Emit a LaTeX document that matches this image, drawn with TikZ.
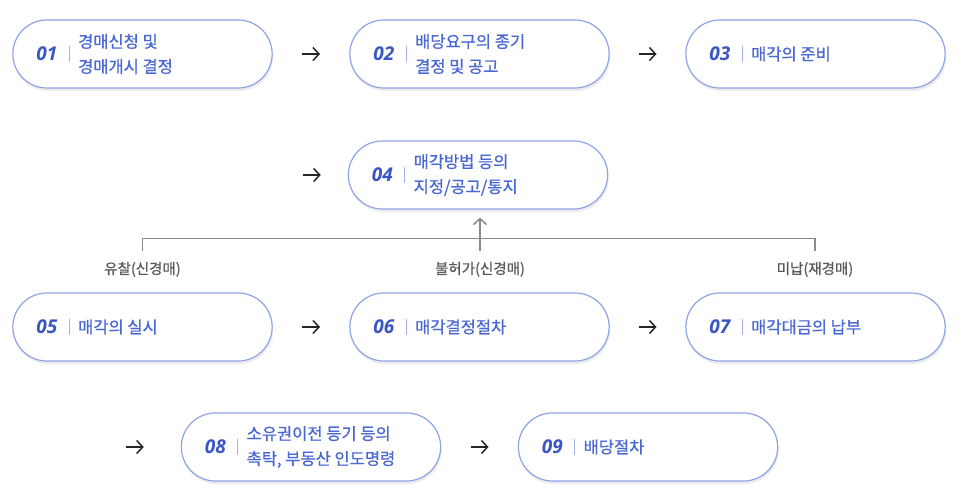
\documentclass[tikz,border=0pt]{standalone}
\usepackage{fontspec}
\setmainfont{Noto Sans CJK KR}[FakeBold=0.7]
\newfontfamily\numfont{Open Sans}
\usetikzlibrary{calc}
\usetikzlibrary{positioning}
\usetikzlibrary{shapes.misc}
\usetikzlibrary{shadows}
\usetikzlibrary{arrows.meta}
\definecolor{boxline}{HTML}{8FA3E8}
\definecolor{numblue}{HTML}{3A56C5}
\definecolor{txtblue}{HTML}{4A68D4}
\definecolor{barblue}{HTML}{A3B1DE}
\definecolor{linegray}{HTML}{8A8A8A}
\definecolor{labelgray}{HTML}{5A5A5A}
\tikzstyle{stagebox} = [draw=boxline, line width=1.2pt, fill=white, rounded rectangle, minimum width=266pt, minimum height=68pt, drop shadow={shadow xshift=1pt, shadow yshift=-3pt, opacity=0.15}]
\tikzstyle{stagenum} = [inner sep=0pt, text=numblue, font=\numfont\bfseries\itshape\fontsize{19}{19}\selectfont]
\tikzstyle{stagebar} = [inner sep=0pt, minimum width=1pt, minimum height=16pt, fill=barblue]
\tikzstyle{stagetxt} = [inner sep=0pt, align=left, text=txtblue, font=\fontsize{16.5}{25}\selectfont]
\tikzstyle{flowarrow} = [-{Straight Barb[length=6pt,width=13pt]}, line width=1.5pt, color=black!85]
\tikzstyle{branch} = [draw=linegray, line width=1.4pt]
\tikzstyle{branchlabel} = [inner sep=0pt, text=labelgray, font=\fontsize{14.5}{14.5}\selectfont]

\begin{document}
\begin{tikzpicture}[x=1pt,y=-1pt]
    \useasboundingbox (0,0) rectangle (966,502);

    % first row
    \node[stagebox] (b01) at (142.5,54) {};
    \node[stagenum, right=24pt of b01.west] (n01) {01};
    \node[stagebar, right=11pt of n01] (s01) {};
    \node[stagetxt, right=8pt of s01] (t01) {경매신청 및\\경매개시 결정};

    \node[stagebox] (b02) at ($(b01)+(337,0)$) {};
    \node[stagenum, right=24pt of b02.west] (n02) {02};
    \node[stagebar, right=11pt of n02] (s02) {};
    \node[stagetxt, right=8pt of s02] (t02) {배당요구의 종기\\결정 및 공고};

    \node[stagebox] (b03) at ($(b02)+(336,0)$) {};
    \node[stagenum, right=24pt of b03.west] (n03) {03};
    \node[stagebar, right=11pt of n03] (s03) {};
    \node[stagetxt, right=8pt of s03] (t03) {매각의 준비};

    % second row
    \node[stagebox] (b04) at ($(b02)+(-1.5,121)$) {};
    \node[stagenum, right=24pt of b04.west] (n04) {04};
    \node[stagebar, right=11pt of n04] (s04) {};
    \node[stagetxt, right=8pt of s04] (t04) {매각방법 등의\\지정/공고/통지};

    % third row
    \node[stagebox] (b05) at ($(b01)+(0,273)$) {};
    \node[stagenum, right=24pt of b05.west] (n05) {05};
    \node[stagebar, right=11pt of n05] (s05) {};
    \node[stagetxt, right=8pt of s05] (t05) {매각의 실시};

    \node[stagebox] (b06) at ($(b05)+(337,0)$) {};
    \node[stagenum, right=24pt of b06.west] (n06) {06};
    \node[stagebar, right=11pt of n06] (s06) {};
    \node[stagetxt, right=8pt of s06] (t06) {매각결정절차};

    \node[stagebox] (b07) at ($(b06)+(336,0)$) {};
    \node[stagenum, right=24pt of b07.west] (n07) {07};
    \node[stagebar, right=11pt of n07] (s07) {};
    \node[stagetxt, right=8pt of s07] (t07) {매각대금의 납부};

    % fourth row
    \node[stagebox] (b08) at (311,447) {};
    \node[stagenum, right=24pt of b08.west] (n08) {08};
    \node[stagebar, right=11pt of n08] (s08) {};
    \node[stagetxt, right=8pt of s08] (t08) {소유권이전 등기 등의\\촉탁, 부동산 인도명령};

    \node[stagebox] (b09) at ($(b08)+(337,0)$) {};
    \node[stagenum, right=24pt of b09.west] (n09) {09};
    \node[stagebar, right=11pt of n09] (s09) {};
    \node[stagetxt, right=8pt of s09] (t09) {배당절차};

    % arrows between the stages
    \coordinate (ar_12) at ($(b01.east)!0.5!(b02.west)$);
    \coordinate (ar_23) at ($(b02.east)!0.5!(b03.west)$);
    \coordinate (ar_04) at ($(b04.west)+(-36,0)$);
    \coordinate (ar_56) at ($(b05.east)!0.5!(b06.west)$);
    \coordinate (ar_67) at ($(b06.east)!0.5!(b07.west)$);
    \coordinate (ar_08) at ($(b08.west)+(-46,0)$);
    \coordinate (ar_89) at ($(b08.east)!0.5!(b09.west)$);
    \draw[flowarrow] ($(ar_12)+(-9,0)$) -- ($(ar_12)+(9,0)$);
    \draw[flowarrow] ($(ar_23)+(-9,0)$) -- ($(ar_23)+(9,0)$);
    \draw[flowarrow] ($(ar_04)+(-9,0)$) -- ($(ar_04)+(9,0)$);
    \draw[flowarrow] ($(ar_56)+(-9,0)$) -- ($(ar_56)+(9,0)$);
    \draw[flowarrow] ($(ar_67)+(-9,0)$) -- ($(ar_67)+(9,0)$);
    \draw[flowarrow] ($(ar_08)+(-9,0)$) -- ($(ar_08)+(9,0)$);
    \draw[flowarrow] ($(ar_89)+(-9,0)$) -- ($(ar_89)+(9,0)$);

    % going back to 04
    \node[branchlabel] (l05) at ($(b05.north)+(0,-23)$) {유찰(신경매)};
    \node[branchlabel] (l06) at ($(b06.north)+(0.5,-23)$) {불허가(신경매)};
    \node[branchlabel] (l07) at ($(b07.north)+(-0.5,-23)$) {미납(재경매)};
    \coordinate (merge) at ($(b04.south)+(2,29)$);
    \draw[branch] ([yshift=11pt]l05.north) |- (merge) -| ([yshift=11pt]l07.north);
    \draw[branch, flowarrow, color=linegray] ([yshift=11pt]l06.north) -- ($(b04.south)+(2,8)$);
\end{tikzpicture}
\end{document}
